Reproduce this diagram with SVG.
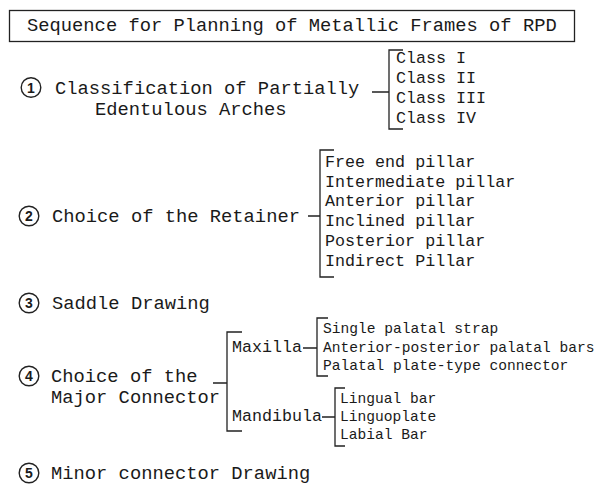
<svg xmlns="http://www.w3.org/2000/svg" width="597" height="484" viewBox="0 0 597 484">
<style>
text{font-family:"Liberation Mono","Courier New",monospace;fill:#1a1a1a}
.h{font-size:18.8px}
.s{font-size:16.7px}
.t{font-size:14.6px}
.d{font-family:"Liberation Sans",Arial,sans-serif;font-size:14px;font-weight:bold;text-anchor:middle}
.c{fill:none;stroke:#222;stroke-width:1.4}
.ln{fill:none;stroke:#222;stroke-width:1.3}
</style>
<rect width="597" height="484" fill="#fff"/>
<g id="title">
<rect x="9.5" y="10.5" width="565" height="31" class="ln"/>
<text class="h" x="27" y="31">Sequence for Planning of Metallic Frames of RPD</text>
</g>
<g id="step1">
<circle class="c" cx="31" cy="87.5" r="9.8"/>
<text class="d" x="31" y="92.5">1</text>
<text class="h" x="55" y="94">Classification of Partially</text>
<text class="h" x="95" y="115">Edentulous Arches</text>
</g>
<g id="classes">
<text class="s" x="396" y="63">Class I</text>
<text class="s" x="396" y="83">Class II</text>
<text class="s" x="396" y="103">Class III</text>
<text class="s" x="396" y="123">Class IV</text>
</g>
<g id="step2">
<circle class="c" cx="29" cy="216" r="9.8"/>
<text class="d" x="29" y="221">2</text>
<text class="h" x="52" y="222">Choice of the Retainer</text>
</g>
<g id="retainers">
<text class="s" x="325" y="167">Free end pillar</text>
<text class="s" x="325" y="187">Intermediate pillar</text>
<text class="s" x="325" y="206">Anterior pillar</text>
<text class="s" x="325" y="226">Inclined pillar</text>
<text class="s" x="325" y="246">Posterior pillar</text>
<text class="s" x="325" y="266">Indirect Pillar</text>
</g>
<g id="step3">
<circle class="c" cx="29" cy="303" r="9.8"/>
<text class="d" x="29" y="308">3</text>
<text class="h" x="52" y="309">Saddle Drawing</text>
</g>
<g id="step4">
<circle class="c" cx="29" cy="376" r="9.8"/>
<text class="d" x="29" y="381">4</text>
<text class="h" x="51" y="382">Choice of the</text>
<text class="h" x="51" y="403">Major Connector</text>
</g>
<g id="maxilla">
<text class="s" x="232" y="352">Maxilla</text>
</g>
<g id="maxilla-items">
<text class="t" x="323" y="333">Single palatal strap</text>
<text class="t" x="323" y="352">Anterior-posterior palatal bars</text>
<text class="t" x="323" y="370">Palatal plate-type connector</text>
</g>
<g id="mandibula">
<text class="s" x="232" y="421">Mandibula</text>
</g>
<g id="mandibula-items">
<text class="t" x="340" y="403">Lingual bar</text>
<text class="t" x="340" y="421">Linguoplate</text>
<text class="t" x="340" y="439">Labial Bar</text>
</g>
<g id="step5">
<circle class="c" cx="29" cy="473" r="9.8"/>
<text class="d" x="29" y="478">5</text>
<text class="h" x="51" y="479">Minor connector Drawing</text>
</g>
<g id="connectors" class="ln">
<path d="M372 92H389M403 50H389V129H403"/>
<path d="M308 216H320M334 150H320V277H334"/>
<path d="M213 383H227M242 332H227V431H242"/>
<path d="M303 348H317M328 318H317V376H328"/>
<path d="M322 417H335M345 388H335V446H345"/>
</g>
</svg>
